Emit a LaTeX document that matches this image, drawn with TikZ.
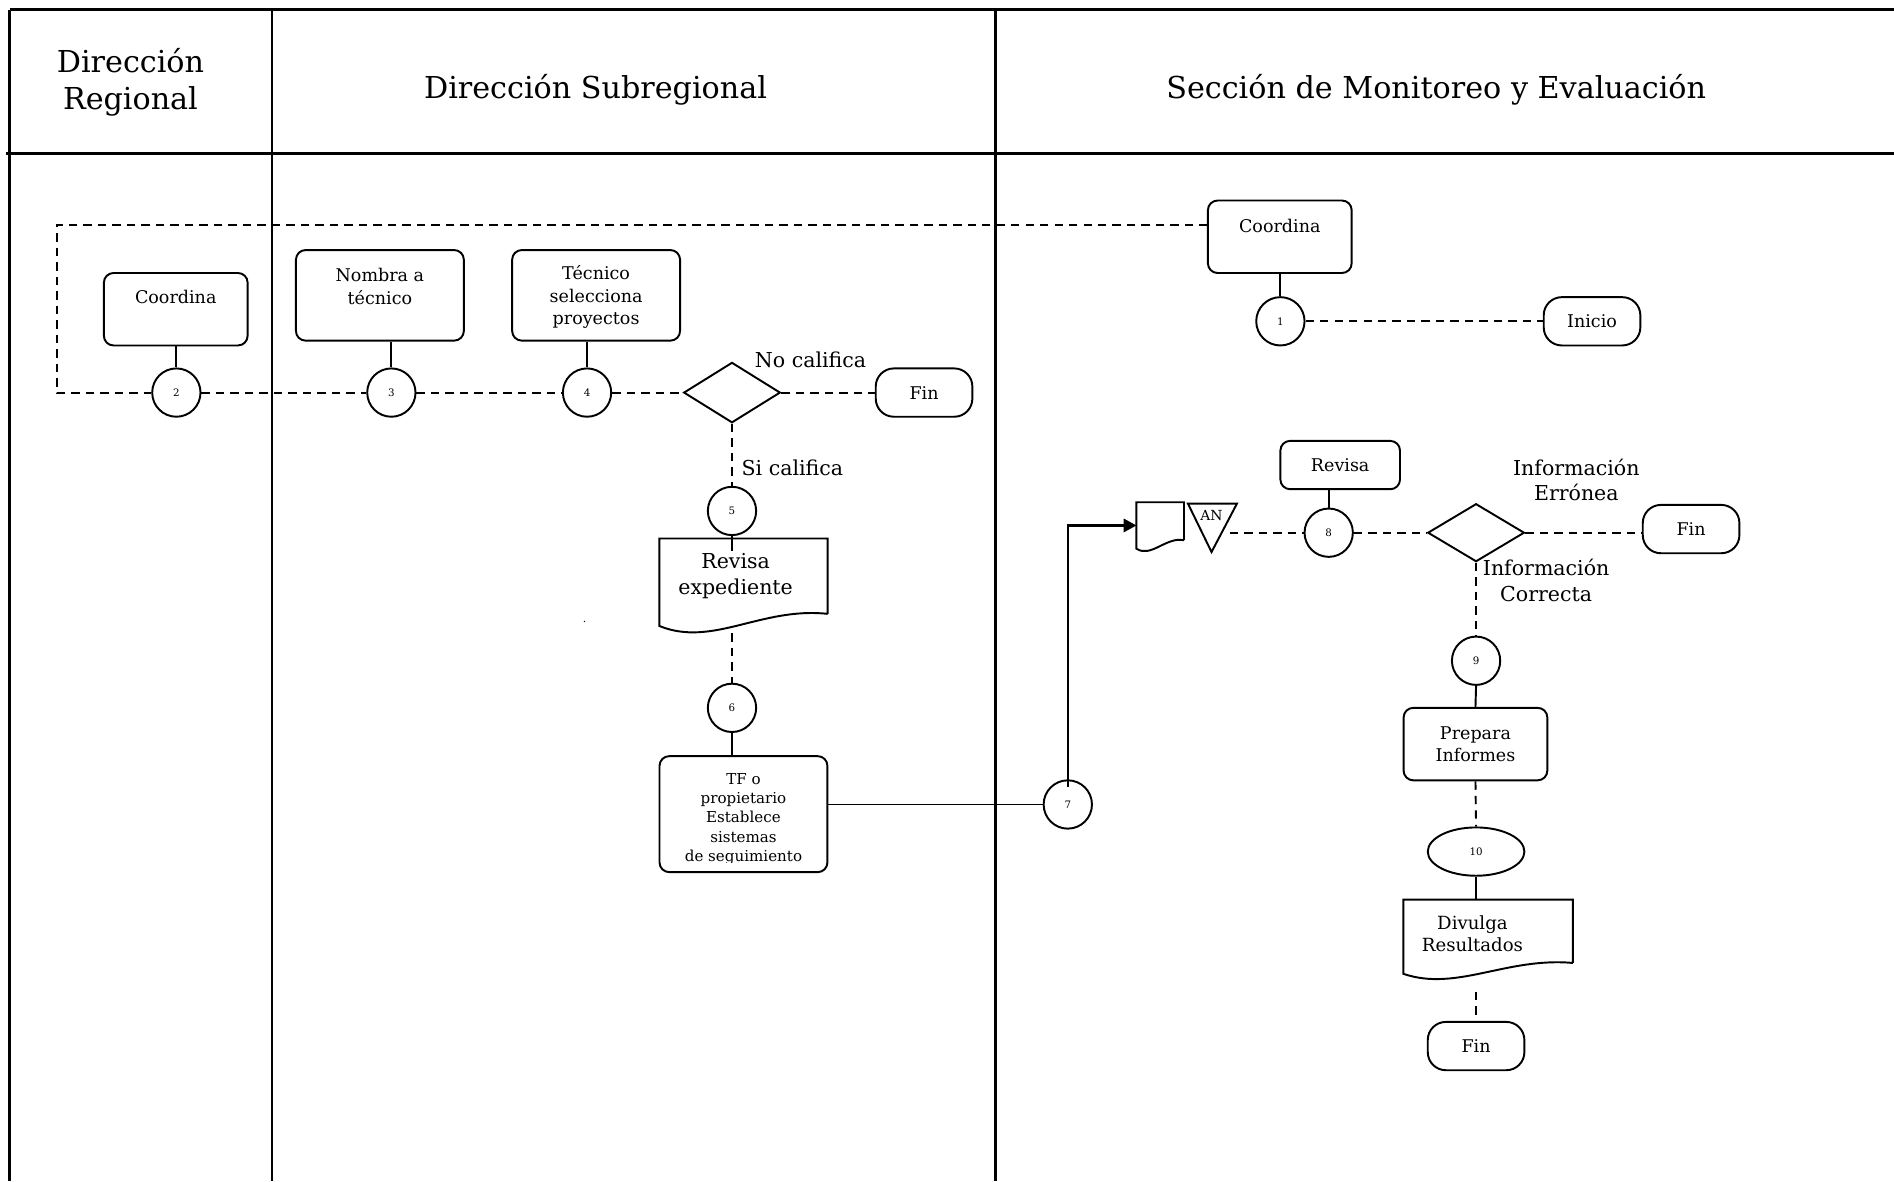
\documentclass[tikz,border=0pt]{standalone}
\usepackage{fontspec}
\setmainfont{DejaVu Serif}
\usetikzlibrary{calc,shapes.geometric,arrows.meta}
\begin{document}
\begin{tikzpicture}[x=1pt,y=-1pt,
  lane/.style={line width=2pt},
  sol/.style={line width=1.6pt},
  dsh/.style={line width=1.6pt, dash pattern=on 7pt off 5pt},
  box/.style={draw, line width=1.6pt, rounded corners=8pt, inner sep=0pt},
  num/.style={draw, circle, line width=1.6pt, minimum size=40pt, inner sep=0pt, font=\fontsize{8.5}{9}\selectfont},
  oval/.style={draw, ellipse, line width=1.6pt, minimum width=80pt, minimum height=40pt, inner sep=0pt, font=\fontsize{8.5}{9}\selectfont},
  term/.style={draw, line width=1.6pt, rounded corners=15pt, minimum width=80pt, minimum height=40pt, inner sep=0pt, font=\fontsize{14.5}{17}\selectfont},
  dec/.style={draw, diamond, line width=1.6pt, minimum width=80pt, minimum height=50pt, inner sep=0pt},
  docbox/.style={inner sep=0pt},
  hdr/.style={align=center, font=\fontsize{25}{31}\selectfont},
  txt/.style={align=center, font=\fontsize{14.5}{19}\selectfont},
  lbl/.style={align=center, font=\fontsize{17}{21}\selectfont},
]
\useasboundingbox (0,0) rectangle (1568,978);

% swimlane frame
\draw[lane] (8,8) -- (1568,8);
\draw[lane] (5,127) -- (1568,127);
\draw[lane] (8,8) -- (8,978);
\draw[lane] (225,8) -- (225,978);
\draw[lane] (824,8) -- (824,978);

% headers
\node[hdr] (hDR) at (108,68) {Dirección\\Regional};
\node[hdr] (hDS) at (493,74) {Dirección Subregional};
\node[hdr] (hSME) at (1189,74) {Sección de Monitoreo y Evaluación};

% process boxes
\node[box, minimum width=119pt, minimum height=60pt] (bC1) at (1059.5,196) {};
\node[txt] (tC1) at (1059.5,187) {Coordina};
\node[box, minimum width=119pt, minimum height=60pt] (bC2) at (145.5,256) {};
\node[txt] (tC2) at (145.5,246) {Coordina};
\node[box, minimum width=139pt, minimum height=75pt] (bNom) at (314.5,244.5) {};
\node[txt] (tNom) at (314.5,237) {Nombra a\\técnico};
\node[box, minimum width=139pt, minimum height=75pt] (bTec) at (493.5,244.5) {};
\node[txt, font=\fontsize{14.5}{18.5}\selectfont] (tTec) at (493.5,246) {Técnico\\selecciona\\proyectos};
\node[box, minimum width=99pt, minimum height=40pt] (bRev) at (1109.5,385) {};
\node[txt] (tRev) at (1109.5,385) {Revisa};
\node[box, minimum width=119pt, minimum height=60pt] (bPrep) at (1221.5,616) {};
\node[txt, font=\fontsize{14.5}{18}\selectfont] (tPrep) at (1221.5,616) {Prepara\\Informes};
\node[box, minimum width=139pt, minimum height=96pt] (bTF) at (615.5,674) {};
\begin{scope}
\clip (546,626) rectangle (685,714);
\node[align=center, font=\fontsize{12.5}{16}\selectfont] (tTF) at (615.5,678) {TF o\\propietario\\Establece\\sistemas\\de seguimiento};
\end{scope}

% numbered connectors
\node[num] (c1) at (1060,266) {1};
\node[num] (c2) at (146,325) {2};
\node[num] (c3) at (324,325) {3};
\node[num] (c4) at (486,325) {4};
\node[num] (c5) at (606,423) {5};
\node[num] (c6) at (606,586) {6};
\node[num] (c7) at (884,666) {7};
\node[num] (c8) at (1100,441) {8};
\node[num] (c9) at (1222,547) {9};
\node[oval] (e10) at (1222,705) {10};

% decisions
\node[dec] (d1) at (606,325) {};
\node[dec, minimum height=48pt] (d2) at (1222,441) {};

% terminators
\node[term] (inicio) at (1318,266) {Inicio};
\node[term] (fin1) at (765,325) {Fin};
\node[term] (fin2) at (1400,438) {Fin};
\node[term] (fin3) at (1222,866) {Fin};

% documents
\node[docbox, minimum width=139pt, minimum height=72pt] (doc1) at (615.5,482) {};
\draw[sol] ($(doc1.south east)+(0,-10)$) -- (doc1.north east) -- (doc1.north west) -- (doc1.south west)
  .. controls +(44,18) and +(-55,-6) .. ($(doc1.south east)+(0,-10)$);
\node[lbl] (tDoc1) at (609,477) {Revisa\\expediente};

\node[docbox, minimum width=140pt, minimum height=61pt] (doc2) at (1232,775.5) {};
\draw[sol] ($(doc2.south east)+(0,-9)$) -- (doc2.north east) -- (doc2.north west) -- (doc2.south west)
  .. controls +(44,15) and +(-55,-5) .. ($(doc2.south east)+(0,-9)$);
\node[align=center, font=\fontsize{15}{18}\selectfont] (tDoc2) at (1219,773) {Divulga\\Resultados};

\node[docbox, minimum width=39pt, minimum height=38pt] (docS) at (960.5,435) {};
\draw[sol] ($(docS.south east)+(0,-7)$) -- (docS.north east) -- (docS.north west) -- (docS.south west)
  .. controls +(12,8) and +(-15,-3) .. ($(docS.south east)+(0,-7)$);

% archive triangle
\coordinate (tA) at (983.5,417);
\coordinate (tB) at (1024,417);
\coordinate (tC) at (1003,457);
\draw[sol, line join=miter] (tA) -- (tB) -- (tC) -- cycle;
\node[font=\fontsize{11.5}{12}\selectfont] (an) at (1003,427) {AN};
\coordinate (triR) at (1018,441);

% stray dot
\node[font=\fontsize{9}{9}\selectfont, inner sep=0pt] (dot) at (484,515) {.};

% labels
\node[lbl] (lNo) at (671,298) {No califica};
\node[lbl] (lSi) at (656,387) {Si califica};
\node[lbl] (lErr) at (1305,397.5) {Información\\Errónea};
\node[lbl] (lCor) at (1280,480.5) {Información\\Correcta};

% dashed coordination loop
\coordinate (lpA) at (1000,186);
\coordinate (lpB) at (47,186);
\coordinate (lpC) at (47,325);
\draw[dsh] (lpA) -- (lpB) -- (lpC) -- (c2.west);
\draw[dsh] (c2) -- (c3);
\draw[dsh] (c3) -- (c4);
\draw[dsh] (c4) -- (d1.west);
\draw[dsh] (d1.east) -- (fin1.west);
\draw[dsh] (c1) -- (inicio);

% solid links box -> circle
\draw[sol] (bC1.south -| c1.north) -- (c1.north);
\draw[sol] (bC2.south -| c2.north) -- (c2.north);
\draw[sol] (bNom.south -| c3.north) -- (c3.north);
\draw[sol] (bTec.south -| c4.north) -- (c4.north);
\draw[sol] (bRev.south -| c8.north) -- (c8.north);

% subregional flow
\draw[dsh] (d1.south) -- (c5.north);
\draw[sol] (c5.south) -- ($(c5.south |- doc1.north)+(0,10)$);
\draw[dsh] ($(c6.north |- doc1.south)+(0,6)$) -- (c6.north);
\draw[sol] (c6.south) -- (c6.south |- bTF.north);
\draw[sol] (c7.west -| bTF.east) -- (c7.west);
\draw[line width=1.8pt, -{Triangle[length=10.5pt,width=11pt]}] ($(c7.north)+(0,6)$) |- (docS.west);

% monitoring flow
\draw[dsh] (triR) -- (c8.west);
\draw[dsh] (c8.east) -- (d2.west);
\draw[dsh] (d2.east) -- (d2.east -| fin2.west);
\draw[dsh] (d2.south) -- (c9.north);
\draw[sol] (c9.south) -- (bPrep.north);
\draw[dsh] (bPrep.south) -- (e10.north);
\draw[sol] (e10.south) -- (e10.south |- doc2.north);
\draw[dsh] ($(fin3.north)+(0,-24)$) -- (fin3.north);
\end{tikzpicture}
\end{document}
